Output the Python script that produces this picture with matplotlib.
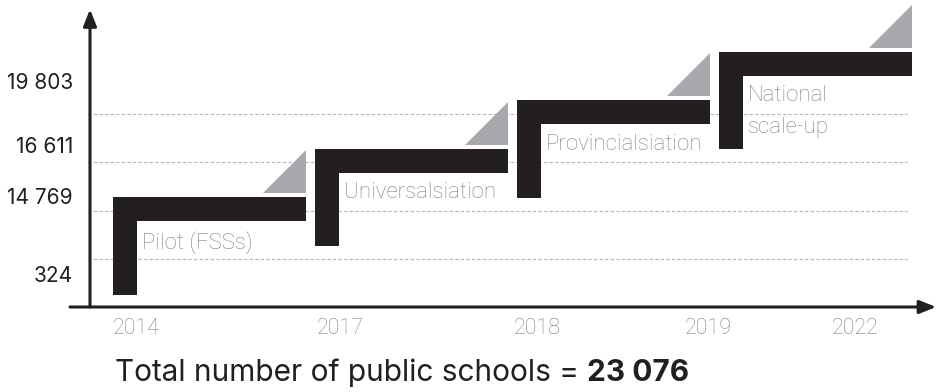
import matplotlib
matplotlib.use("Agg")
import matplotlib.pyplot as plt
from matplotlib.patches import Polygon

# Chart data
phases = ["Pilot (FSSs)", "Universalsiation", "Provincialsiation", "National\nscale-up"]
years = ["2014", "2017", "2018", "2019", "2022"]
schools = [324, 14769, 16611, 19803]
total_schools = 23076

# Layout (in step units: 1 x-unit = one phase, 1 y-unit = one level)
year_pos = [0.114, 1.124, 2.099, 2.946, 3.673]
label_pos = [-1.63, -0.02, 1.03, 2.35]
grid_pos = [-1.278, -0.289, 0.722, 1.711]

bar_w = 0.119      # vertical bar width
bar_len = 0.955    # horizontal bar length
bar_h = 0.495      # horizontal bar thickness
drop = 2.02        # vertical bar height
tri_w, tri_h, tri_gap = 0.213, 0.887, 0.082

dark = "#231f20"
grey = "#a7a9ac"
text_grey = "#808080"

plt.rcParams["font.family"] = ["Inter", "DejaVu Sans"]
light = ["Roboto", "DejaVu Sans"]

fig = plt.figure(figsize=(9.37, 3.92), dpi=100)
ax = fig.add_axes([0, 0, 1, 1])
ax.set_xlim(-0.5594, 4.0792)
ax.set_ylim(-4.0206, 4.0619)
ax.axis("off")

# dotted guide lines
for g in grid_pos:
    ax.plot([-0.124, 3.931], [g, g], color="#b5b5b5", lw=0.8, ls=(0, (3, 2)), zorder=1)

# steps
for i, name in enumerate(phases):
    x0, top = i, i
    shape = [(x0, top), (x0 + bar_len, top), (x0 + bar_len, top - bar_h),
             (x0 + bar_w, top - bar_h), (x0 + bar_w, top - drop), (x0, top - drop)]
    ax.add_patch(Polygon(shape, closed=True, color=dark, lw=0, zorder=3))
    right = x0 + bar_len
    tri = [(right - tri_w, top + tri_gap), (right, top + tri_gap), (right, top + tri_gap + tri_h)]
    ax.add_patch(Polygon(tri, closed=True, color=grey, lw=0, zorder=3))
    ax.text(x0 + 0.145, top - 0.70, name, color=text_grey, fontsize=16, fontweight="light",
            family=light, va="top", ha="left", linespacing=1.65, zorder=4)

# axes arrows
ax.annotate("", xy=(-0.1139, 3.87), xytext=(-0.1139, -2.268),
            arrowprops=dict(arrowstyle="-|>,head_length=1.0,head_width=0.4", color=dark, lw=2.2,
                            shrinkA=0, shrinkB=0), zorder=5)
ax.annotate("", xy=(4.075, -2.268), xytext=(-0.213, -2.268),
            arrowprops=dict(arrowstyle="-|>,head_length=1.0,head_width=0.4", color=dark, lw=2.2,
                            shrinkA=0, shrinkB=0), zorder=5)

# y labels
for v, y in zip(schools, label_pos):
    ax.text(-0.198, y, f"{v:,}".replace(",", " "), color=dark, fontsize=15,
            ha="right", va="center")

# x labels
for yr, x in zip(years, year_pos):
    ax.text(x, -2.711, yr, color=text_grey, fontsize=15.5, fontweight="light",
            family=light, ha="center", va="center")

t = ax.text(0.01, -3.794, "Total number of public schools = ", color=dark, fontsize=21.5,
            ha="left", va="baseline")
ax.annotate(f"{total_schools:,}".replace(",", " "), xy=(1, 0), xycoords=t,
            color=dark, fontsize=21.5, fontweight="bold", ha="left", va="bottom")

fig.savefig("out.png", dpi=100)
